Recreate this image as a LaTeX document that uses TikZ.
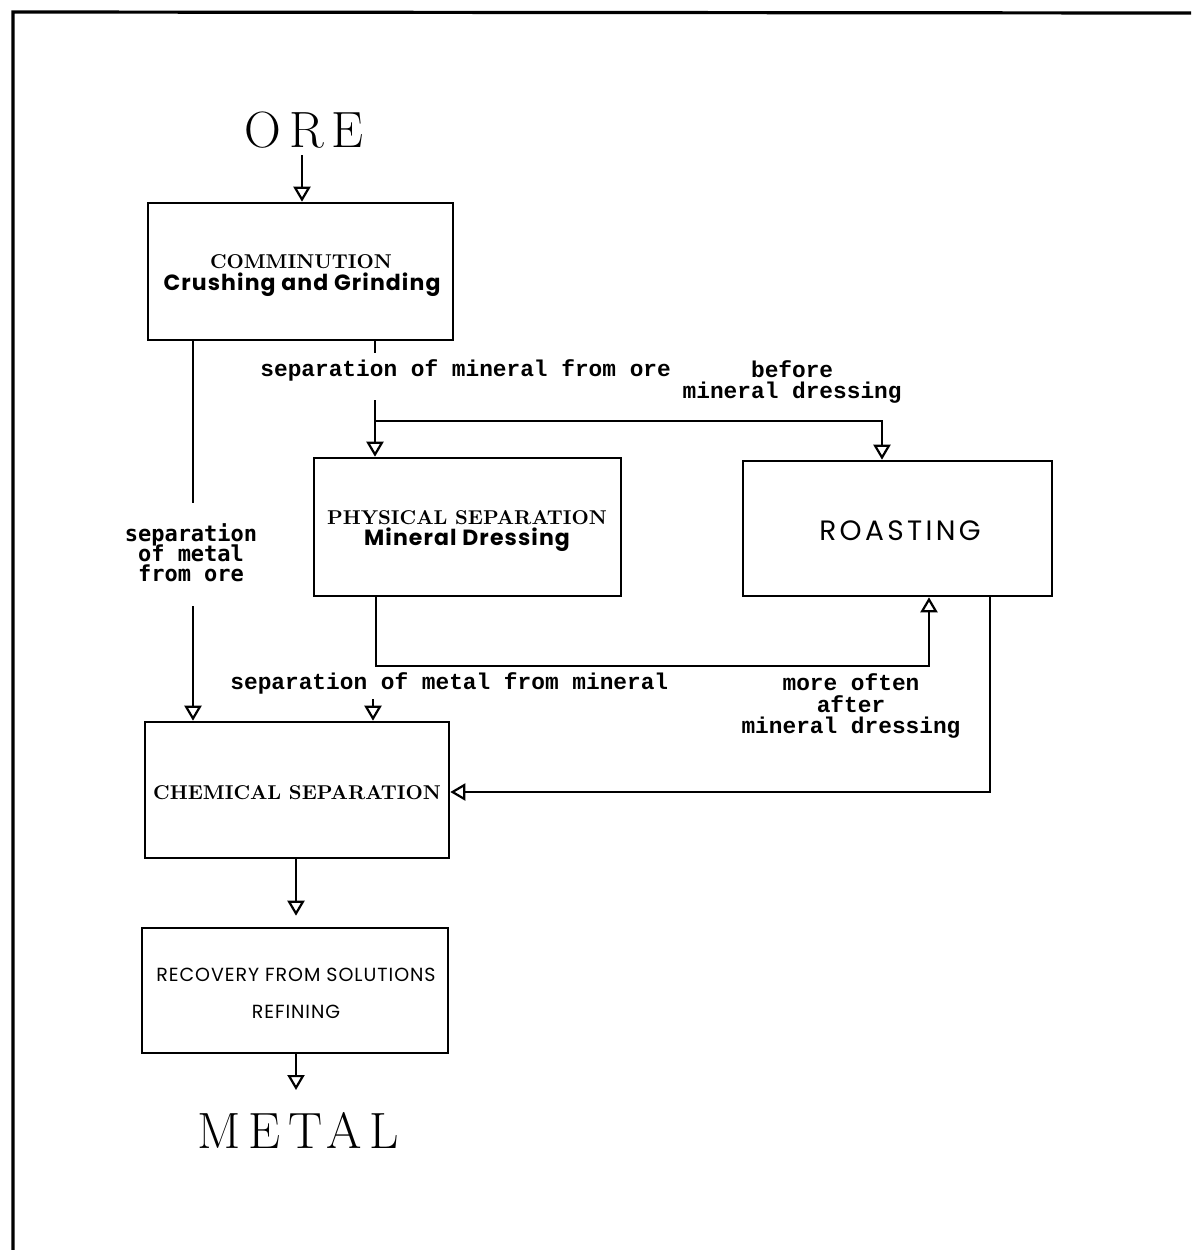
\documentclass[tikz,border=0pt]{standalone}
\usepackage{fontspec}
\setmainfont{Latin Modern Roman}
\setsansfont{Poppins}
\newfontfamily\labfont{Liberation Mono}
\newfontfamily\labsans{DejaVu Sans Mono}
\newfontfamily\bigfont[LetterSpace=15]{Latin Modern Roman}
\newcommand\tightlines{\lineskiplimit=-20pt\relax}
\usetikzlibrary{arrows.meta,fit}
\tikzset{
  boxnode/.style={draw, line width=1.3pt, inner sep=0pt, align=center},
  conn/.style={line width=1.2pt},
  arr/.style={conn, -{Triangle[open, width=8.5pt, length=7.5pt, line width=1.1pt]}},
  lab/.style={inner sep=0pt, align=center, font=\labfont\bfseries\fontsize{11.4}{10.6}\selectfont\tightlines},
  labs/.style={inner sep=0pt, align=center, font=\labsans\bfseries\fontsize{11}{10}\selectfont\tightlines},
  big/.style={inner sep=0pt, font=\bigfont\fontsize{25.5}{28}\selectfont},
  serifcap/.style={inner sep=0pt, font=\bfseries\fontsize{10}{12}\selectfont},
  sansbold/.style={inner sep=0pt, font=\sffamily\bfseries\fontsize{11}{13}\selectfont\addfontfeatures{LetterSpace=5}},
}
\begin{document}
\begin{tikzpicture}[x=0.5pt, y=-0.5pt]
\useasboundingbox (0,0) rectangle (1191,1250);
% frame
\draw[line width=1.6pt] (13,1250) -- (13,12) -- (1191,13);

% title nodes
\node[big] (ore) at (304,130) {ORE};
\node[big] (metal) at (298,1130) {METAL};

% boxes
\node[boxnode, fit={(148,203) (453,340)}] (comm) {};
\node[serifcap] (commA) at (301,262) {COMMINUTION};
\node[sansbold] (commB) at (302,285) {Crushing and Grinding};

\node[boxnode, fit={(314,458) (621,596)}] (phys) {};
\node[serifcap] (physA) at (467,518) {PHYSICAL SEPARATION};
\node[sansbold] (physB) at (467,540) {Mineral Dressing};

\node[boxnode, fit={(743,461) (1052,596)}] (roast) {};
\node[inner sep=0pt, font=\sffamily\fontsize{14}{16}\selectfont\addfontfeatures{LetterSpace=12}] (roastA) at (900,531) {ROASTING};

\node[boxnode, fit={(145,722) (449,858)}] (chem) {};
\node[serifcap] (chemA) at (297,793) {CHEMICAL SEPARATION};

\node[boxnode, fit={(142,928) (448,1053)}] (recov) {};
\node[inner sep=0pt, font=\sffamily\fontsize{9.5}{11}\selectfont\addfontfeatures{LetterSpace=5}] (recA) at (296,975) {RECOVERY FROM SOLUTIONS};
\node[inner sep=0pt, font=\sffamily\fontsize{9.5}{11}\selectfont\addfontfeatures{LetterSpace=5}] (recB) at (296,1012) {REFINING};

% labels
\node[lab, anchor=west] (l1) at (260,370) {separation of mineral from ore};
\node[lab, align=right, anchor=east] (l2) at (902,382) {before\phantom{xxxxx}\\mineral dressing};
\node[labs] (l4) at (191,553) {separation\\of metal\\from ore};
\node[lab, anchor=west] (l7) at (230,683) {separation of metal from mineral};
\node[lab] (l8) at (851,706) {more often\\after\\mineral dressing};

% coordinates
\coordinate (s1) at (375,353);
\coordinate (s2) at (375,400);
\coordinate (j) at (375,421);
\coordinate (jr) at (882,421);
\coordinate (p1) at (376,666);
\coordinate (p2) at (929,666);
\coordinate (r1) at (990,792);
\coordinate (a1) at (193,503);
\coordinate (a2) at (193,606);
\coordinate (m1) at (373,699);
\coordinate (c1) at (296,858);
\coordinate (o1) at (302,155);
\coordinate (e1) at (296,1090);

% connectors
\draw[arr] (o1) -- (o1 |- comm.north);
\draw[conn] (s1 |- comm.south) -- (s1);
\draw[conn] (s2) -- (j);
\draw[arr] (j) -- (j |- phys.north);
\draw[arr] (j) -- (jr) -- (jr |- roast.north);
\draw[arr] (p1 |- phys.south) -- (p1) -- (p2) -- (p2 |- roast.south);
\draw[arr] (r1 |- roast.south) -- (r1) -- (r1 -| chem.east);
\draw[conn] (a1 |- comm.south) -- (a1);
\draw[arr] (a2) -- (a2 |- chem.north);
\draw[arr] (m1) -- (m1 |- chem.north);
\draw[arr, shorten >=5.5pt] (c1 |- chem.south) -- (c1 |- recov.north);
\draw[arr] (c1 |- recov.south) -- (e1);
\end{tikzpicture}
\end{document}
